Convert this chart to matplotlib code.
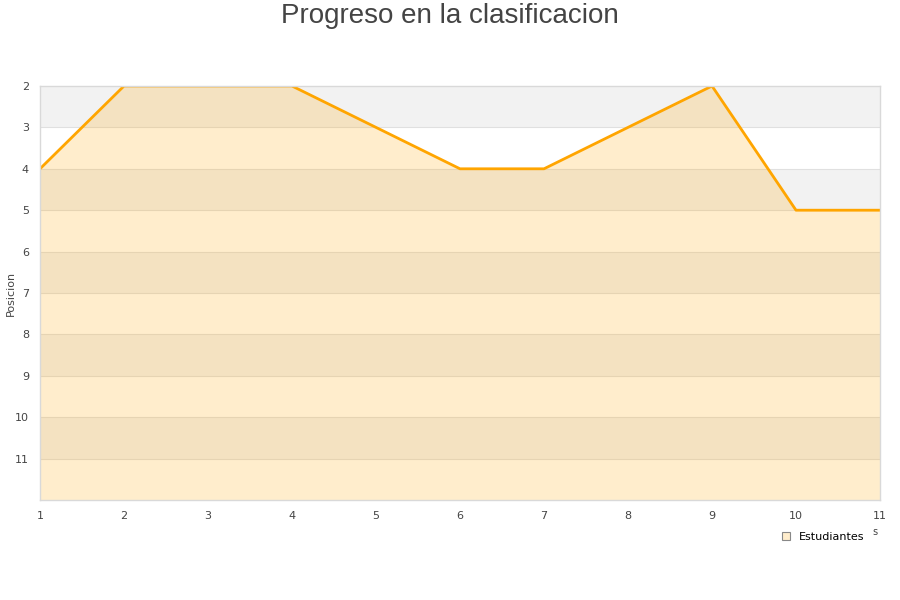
import matplotlib
matplotlib.use("Agg")
import matplotlib.pyplot as plt
from matplotlib.patches import Patch

jornadas = [1, 2, 3, 4, 5, 6, 7, 8, 9, 10, 11]
posicion = [4, 2, 2, 2, 3, 4, 4, 3, 2, 5, 5]
y_ticks = [2, 3, 4, 5, 6, 7, 8, 9, 10, 11]
serie = "Estudiantes"
titulo = "Progreso en la clasificacion"
y_label = "Posicion"

fig = plt.figure(figsize=(9, 6), dpi=100)
ax = fig.add_axes([40/900, 100/600, 840/900, 414/600])

ymin, ymax = 2, 12
for y0 in range(ymin, ymax):
    if (y0 - ymin) % 2 == 0:
        ax.axhspan(y0, y0 + 1, color="#f2f2f2", zorder=0, lw=0)
for y0 in range(ymin + 1, ymax):
    ax.axhline(y0, color="#e0e0e0", lw=0.8, zorder=0.5)

ax.fill_between(jornadas, posicion, ymax, color="#ffa500", alpha=0.2, lw=0, zorder=1)
ax.plot(jornadas, posicion, color="#ffa500", lw=2, zorder=2)

ax.set_xlim(1, 11)
ax.set_ylim(ymax, ymin)
ax.set_xticks(jornadas)
ax.set_yticks(y_ticks)
ax.tick_params(length=0, labelsize=8, colors="#444444", pad=8)
for s in ax.spines.values():
    s.set_color("#d9d9d9")
    s.set_linewidth(1)

fig.text(11/900, 1 - 293/600, y_label, rotation=90, ha="center", va="center",
         fontsize=8, color="#444444")
fig.text(0.5, 0.995, titulo, ha="center", va="top", fontsize=20, color="#444444",
         family=["Liberation Sans", "DejaVu Sans"])
fig.text(875/900, 1 - 532/600, "s", ha="center", va="center", fontsize=7, color="#444444")

handle = Patch(facecolor=(1.0, 0.647, 0.0, 0.2), edgecolor="#888888", lw=0.8)
fig.legend([handle], [serie], loc="center", bbox_to_anchor=(823/900, 1 - 537/600),
           frameon=False, fontsize=8, handlelength=0.7, handleheight=0.7,
           handletextpad=0.8, borderaxespad=0)

fig.savefig("out.png", dpi=100)
